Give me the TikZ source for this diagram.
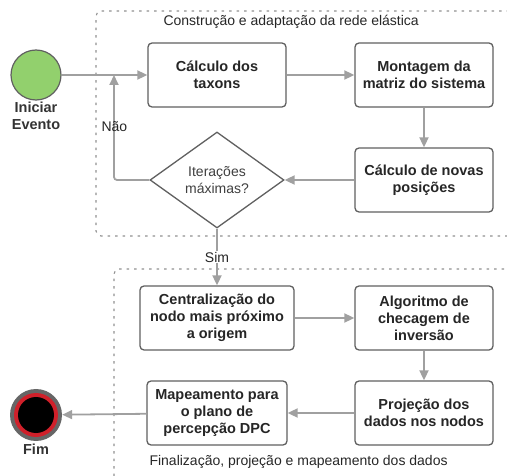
\documentclass[tikz,border=0pt]{standalone}
\usepackage{fontspec}
\setmainfont{Liberation Sans}
\usetikzlibrary{arrows.meta,shapes.geometric}
\definecolor{linegray}{HTML}{A0A0A0}
\definecolor{boxgray}{HTML}{606060}
\definecolor{startgreen}{HTML}{92D06D}
\definecolor{endred}{HTML}{D0202A}
\tikzset{
  px/.style={x=1pt,y=-1pt},
  stepbox/.style={draw=boxgray,line width=1.3pt,rounded corners=4pt,fill=white,
    minimum width=138pt,minimum height=64pt,align=center,
    font=\fontsize{14.5}{17}\selectfont\bfseries,text=black!85,inner sep=2pt},
  flow/.style={draw=linegray,line width=1.8pt,-{Triangle[length=10pt,width=9pt]}},
  plainline/.style={draw=linegray,line width=1.8pt},
  frame/.style={draw=boxgray!70,line width=1.1pt,dash pattern=on 2.5pt off 5pt,rounded corners=5pt},
  lbl/.style={font=\fontsize{14}{16}\selectfont,text=black!85},
  evlbl/.style={font=\fontsize{14.5}{17}\selectfont\bfseries,text=black!80,align=center},
}
\begin{document}
\begin{tikzpicture}[px]
\useasboundingbox (0,0) rectangle (507,476);
% frames
\draw[frame] (515,236) -- (96,236) -- (96,11) -- (515,11);
\draw[frame] (515,490) -- (114,490) -- (114,269) -- (515,269);
\node[lbl,anchor=west] (t1) at (160,22) {Construção e adaptação da rede elástica};
\node[lbl,anchor=west] (t2) at (146,462) {Finalização, projeção e mapeamento dos dados};
% start
\node[circle,draw=boxgray,line width=1.2pt,fill=startgreen,minimum size=50pt,inner sep=0] (start) at (36,75) {};
\node[evlbl] (startlbl) at (36,116) {Iniciar\\Evento};
% top boxes
\node[stepbox] (b1) at (217,75) {Cálculo dos\\taxons};
\node[stepbox] (b2) at (424,75) {Montagem da\\matriz do sistema};
\node[stepbox] (b3) at (424,180) {Cálculo de novas\\posições};
\node[diamond,draw=boxgray,line width=1.3pt,fill=white,minimum width=134pt,minimum height=96pt,
  aspect=1.4,inner sep=0] (d) at (217,180) {};
\node[align=center,font=\fontsize{14}{17}\selectfont,text=black!75] (dtext) at (217,180) {Iterações\\máximas?};
\coordinate (j1) at (114,75);
\coordinate (j2) at (114,180);
\draw[plainline] (start) -- (j1);
\draw[flow] (j1) -- (b1);
\draw[flow,rounded corners=3pt] (d.west) -- (j2) -- (j1);
\node[lbl,anchor=west] (nao) at (98,127) {Não};
\draw[flow] (b1) -- (b2);
\draw[flow] (b2) -- (b3);
\draw[flow] (b3) -- (d.east);
% bottom boxes
\node[stepbox,minimum width=154pt] (b4) at (217,318) {Centralização do\\nodo mais próximo\\a origem};
\node[stepbox] (b5) at (424,318) {Algoritmo de\\checagem de\\inversão};
\node[stepbox] (b6) at (424,413) {Projeção dos\\dados nos nodos};
\node[stepbox,minimum width=140pt] (b7) at (217,413) {Mapeamento para\\o plano de\\percepção DPC};
\draw[flow] (d.south) -- node[fill=white,lbl,inner sep=1pt] (sim) {Sim} (b4);
\draw[flow] (b4) -- (b5);
\draw[flow] (b5) -- (b6);
\draw[flow] (b6) -- (b7);
% end
\node[circle,fill=black!60,minimum size=52pt,inner sep=0] (endo) at (36,415) {};
\node[circle,fill=endred,minimum size=44pt,inner sep=0] (endr) at (36,415) {};
\node[circle,fill=black,minimum size=36pt,inner sep=0] (endb) at (36,415) {};
\node[evlbl] (endlbl) at (36,449) {Fim};
\draw[flow] (b7) -- (endo);
\end{tikzpicture}
\end{document}
